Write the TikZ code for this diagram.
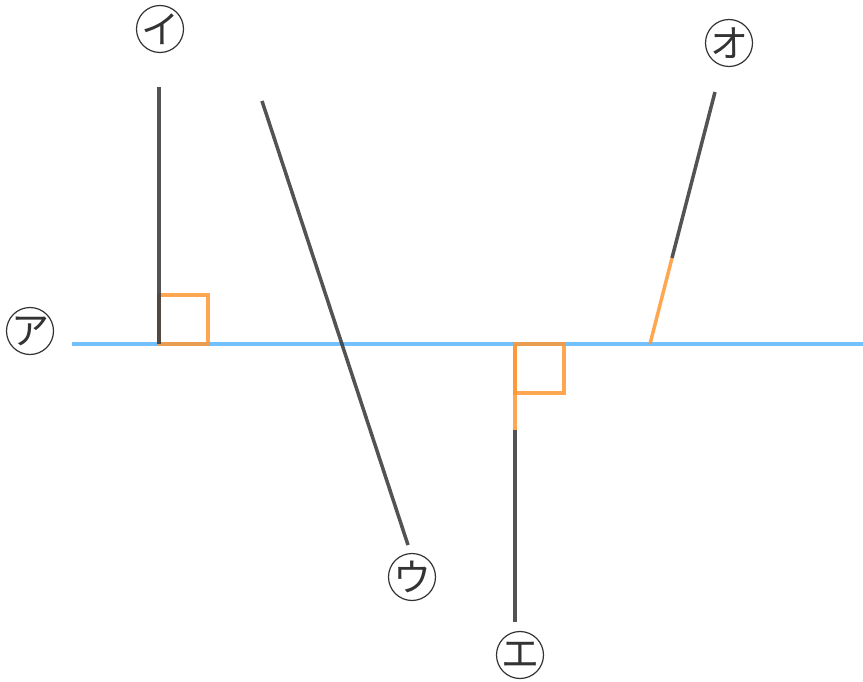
\documentclass[tikz,border=0pt]{standalone}
\usepackage{fontspec}
\newfontfamily\jpfont{Noto Sans CJK JP}
\usetikzlibrary{calc}
\definecolor{skyline}{RGB}{100,185,255}
\definecolor{rightmark}{RGB}{255,150,50}

\begin{document}
\begin{tikzpicture}[x=1pt, y=-1pt,
  seg/.style={draw=black!75, line width=3.5, opacity=0.9},
  rmark/.style={draw=rightmark, line width=3.5, opacity=0.85},
  base/.style={draw=skyline, line width=3.5, opacity=0.9},
  lbl/.style={circle, draw=black!80, line width=1.2, minimum size=47, inner sep=-6pt, font=\jpfont\fontsize{38}{38}\selectfont, text=black!80}]
\useasboundingbox (0,0) rectangle (863,682);
% base line
\coordinate (A1) at (72,344);
\coordinate (A2) at (863,344);
% line i
\coordinate (I1) at (159,87);
\coordinate (I0) at (159,344);
% line u
\coordinate (U1) at (262,101);
\coordinate (U2) at (408,545);
% line e
\coordinate (E0) at (515,344);
\coordinate (Em) at (515,430);
\coordinate (E2) at (515,622);
% line o
\coordinate (O0) at (650,344);
\coordinate (Om) at (672,258);
\coordinate (O1) at (715,92);
\draw[base] (A1)--(A2);
\draw[rmark] (I0) rectangle ($(I0)+(49,-49)$);
\draw[seg] (I1)--(I0);
\draw[seg] (U1)--(U2);
\draw[rmark] (E0) rectangle ($(E0)+(49,49)$);
\draw[rmark] (E0)--(Em);
\draw[seg] (Em)--(E2);
\draw[rmark] (O0)--(Om);
\draw[seg] (Om)--(O1);
\node[lbl] (a) at (30,331) {ア};
\node[lbl] (i) at (160,29) {イ};
\node[lbl] (u) at (412,577) {ウ};
\node[lbl] (e) at (520,655) {エ};
\node[lbl] (o) at (729,43) {オ};
\end{tikzpicture}
\end{document}
